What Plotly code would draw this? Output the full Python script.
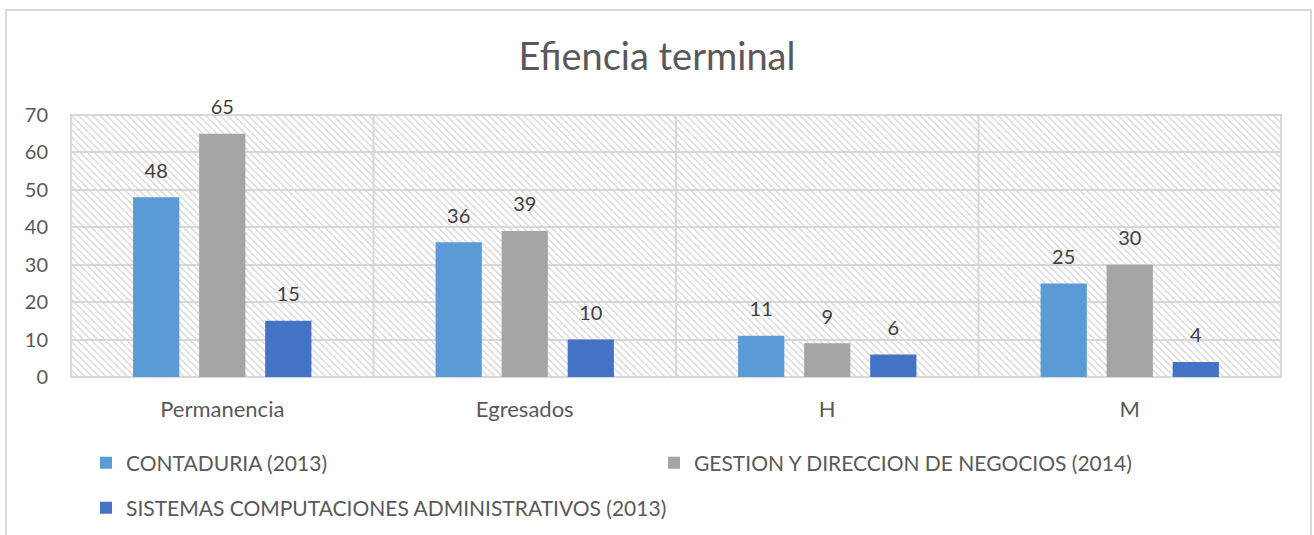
import plotly.graph_objects as go

# ---- data ----
categories = ["Permanencia", "Egresados", "H", "M"]
series_names = [
    "CONTADURIA (2013)",
    "GESTION Y DIRECCION DE NEGOCIOS (2014)",
    "SISTEMAS COMPUTACIONES ADMINISTRATIVOS (2013)",
]
contaduria = [48, 36, 11, 25]
gestion = [65, 39, 9, 30]
sistemas = [15, 10, 6, 4]
y_ticks = [0, 10, 20, 30, 40, 50, 60, 70]
title_text = "Efiencia terminal"

# ---- styles ----
colors = ["#5B9BD5", "#A5A5A5", "#4472C4"]
FONT = "Lato"
GRID = "#d9d9d9"
TXT = "#595959"
BARGAP = 0.345
GROUPGAP = 0.30

W, H = 1314, 535
L, R, T, B = 71, 33, 115, 158
pw, ph = W - L - R, H - T - B


def px_x(p):
    return (p - L) / pw


def px_y(p):
    return (H - B - p) / ph


fig = go.Figure()

# hatched plot-area background on base axis
fig.add_trace(go.Bar(
    x=[0.5], y=[max(y_ticks)], width=[1], xaxis="x", yaxis="y",
    marker=dict(color="rgba(0,0,0,0)", line=dict(width=0),
                pattern=dict(shape="\\", fgcolor="#d2d2d2", bgcolor="rgba(0,0,0,0)",
                             size=5, solidity=0.25, fillmode="replace")),
    showlegend=False, hoverinfo="skip",
))

all_series = [contaduria, gestion, sistemas]
legends = ["legend", "legend", "legend2"]
for name, vals, col, lg in zip(series_names, all_series, colors, legends):
    fig.add_trace(go.Bar(
        x=categories, y=vals, name=name, xaxis="x2", yaxis="y",
        marker=dict(color=col, line=dict(width=0)), legend=lg,
    ))
for name, vals in zip(series_names, all_series):
    fig.add_trace(go.Scatter(
        x=categories, y=vals, mode="markers+text", text=[str(v) for v in vals],
        textposition="top center", xaxis="x2", yaxis="y",
        marker=dict(size=22, opacity=0), showlegend=False, hoverinfo="skip",
        textfont=dict(family=FONT, size=20, color="#404040"), cliponaxis=False,
    ))

shapes = []
for i in range(len(categories) - 1):
    shapes.append(dict(type="line", xref="x2", yref="y", x0=i + 0.5, x1=i + 0.5,
                       y0=0, y1=max(y_ticks), line=dict(color=GRID, width=2), layer="below"))
shapes.append(dict(type="rect", xref="paper", yref="paper", x0=0, x1=1, y0=0, y1=1,
                   line=dict(color=GRID, width=2), layer="below"))
shapes.append(dict(type="rect", xref="paper", yref="paper",
                   x0=px_x(6), x1=px_x(1311), y0=px_y(545), y1=px_y(10),
                   line=dict(color="#d9d9d9", width=2), layer="above"))

legend_common = dict(orientation="h", xanchor="left", yanchor="middle",
                     xref="container", yref="container", entrywidthmode="pixels",
                     font=dict(family=FONT, size=21, color=TXT),
                     bgcolor="rgba(0,0,0,0)", itemclick=False, itemdoubleclick=False)

fig.update_layout(
    width=W, height=H,
    margin=dict(l=L, r=R, t=T, b=B, autoexpand=False),
    paper_bgcolor="white", plot_bgcolor="white",
    barmode="group", bargap=BARGAP, bargroupgap=GROUPGAP,
    scattermode="group", scattergap=BARGAP,
    font=dict(family=FONT, color=TXT),
    title=dict(text=title_text, x=0.5, xref="container", xanchor="center",
               y=1 - 57 / H, yref="container", yanchor="middle",
               font=dict(family=FONT, size=38, color=TXT)),
    xaxis=dict(range=[0, 1], visible=False, fixedrange=True),
    xaxis2=dict(overlaying="x", anchor="y", side="bottom", type="category",
                showgrid=False, showline=False, zeroline=False, ticks="",
                tickfont=dict(family=FONT, size=22, color=TXT), ticklabelstandoff=17),
    yaxis=dict(range=[0, max(y_ticks)], tickvals=y_ticks, showgrid=True,
               gridcolor=GRID, gridwidth=2, zeroline=False, showline=False, ticks="",
               tickfont=dict(family=FONT, size=20, color=TXT), ticklabelstandoff=22),
    legend=dict(x=86 / W, y=1 - 463 / H, entrywidth=523, **legend_common),
    legend2=dict(x=86 / W, y=1 - 508 / H, entrywidth=800, **legend_common),
    shapes=shapes,
    showlegend=True,
)

fig.write_html("out.html", config={"displayModeBar": False},
               post_script="document.body.style.margin='0';")
